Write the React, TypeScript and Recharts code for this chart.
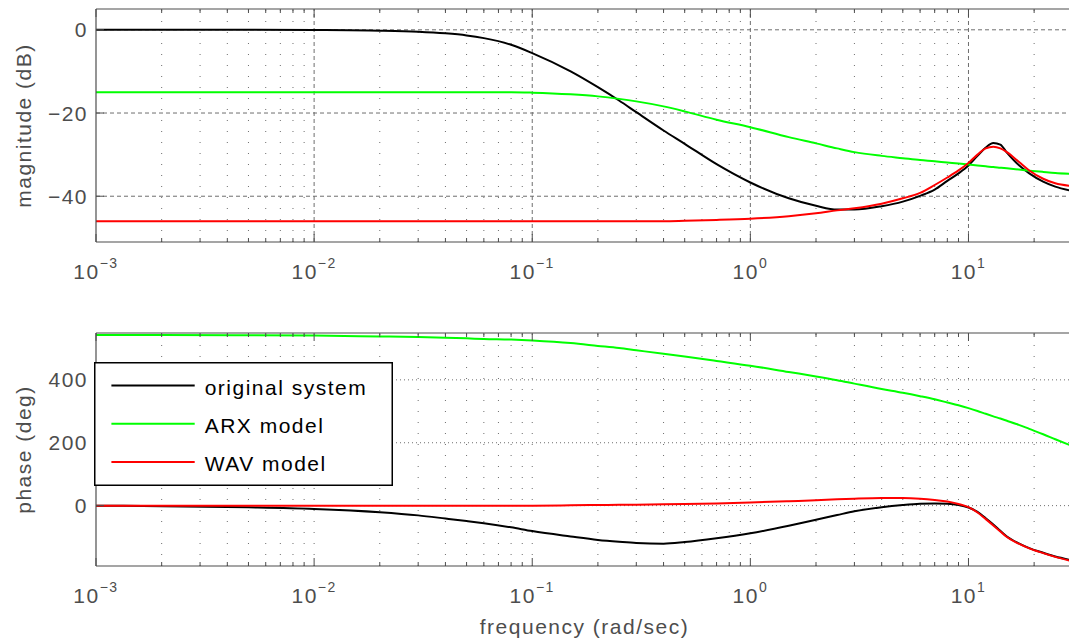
import React from 'react';
import { LineChart, Line, XAxis, YAxis, ReferenceLine, Legend } from 'recharts';

// frequency grid (rad/sec) shared by every curve
const freqs = [
  0.001, 0.002, 0.005, 0.01, 0.02, 0.03, 0.04, 0.05, 0.06, 0.08, 0.1, 0.15, 0.2, 0.25, 0.3, 0.4,
  0.5, 0.7, 1, 1.5, 2, 2.5, 3, 4, 5, 6, 7, 8, 9, 10, 11, 12, 13, 14, 15, 17, 19, 22, 25, 29,
];

// magnitude (dB)
const magOriginal = [
  0, 0, 0, -0.05, -0.2, -0.45, -0.85, -1.35, -2.0, -3.6, -5.6, -10.0, -13.8, -17.0, -19.8, -24.2,
  -27.4, -32.3, -36.7, -40.5, -42.3, -43.2, -43.2, -42.4, -41.3, -39.9, -38.4, -36.3, -34.5, -32.6,
  -30.3, -28.3, -27.2, -27.6, -29.5, -32.5, -34.5, -36.5, -37.7, -38.6,
];
const magArx = [
  -15, -15, -15, -15, -15, -15, -15, -15, -15, -15, -15.1, -15.5, -16.0, -16.6, -17.2, -18.4,
  -19.6, -21.6, -23.4, -25.8, -27.3, -28.5, -29.4, -30.3, -30.85, -31.3, -31.6, -31.9, -32.15, -32.4,
  -32.6, -32.8, -33.0, -33.15, -33.3, -33.6, -33.85, -34.15, -34.4, -34.6,
];
const magWav = [
  -46, -46, -46, -46, -46, -46, -46, -46, -46, -46, -46, -46, -46, -46, -46, -46,
  -45.9, -45.7, -45.4, -44.8, -44.1, -43.4, -42.9, -41.8, -40.5, -39.2, -37.3, -35.5, -33.8, -32.0,
  -30.0, -28.5, -28.1, -28.5, -29.4, -31.7, -33.8, -35.8, -36.9, -37.5,
];

// phase (deg)
const phaseOriginal = [
  0, -2, -5.5, -10.5, -21, -31, -41, -49, -56, -69, -81, -98, -109, -115, -119, -121,
  -116, -104, -88, -64, -45, -30, -18, -5, 2, 6, 7, 6, 2, -6,
  -20, -40, -60, -80, -98, -120, -135, -150, -162, -172,
];
const phaseArx = [
  543, 543, 542, 541, 538, 536, 534, 532, 530, 528, 525, 517, 508, 501, 494, 483,
  474, 460, 445, 425, 411, 399, 388, 371, 359, 348, 338, 328, 319, 310,
  301, 292, 284, 277, 270, 257, 244, 227, 211, 193,
];
const phaseWav = [
  0, 0, 0, 0, 0, 0, 0, 0, 0, 0, 0, 1, 2, 2.5, 3, 4,
  5, 7, 10, 14, 17, 20, 22, 24, 24, 22, 18, 13, 5, -5,
  -22, -43, -63, -82, -100, -121, -136, -151, -163, -175,
];

const seriesNames = ['original system', 'ARX model', 'WAV model'];
const seriesKeys = ['original', 'arx', 'wav'];
const seriesColors = ['#000000', '#00ff00', '#ff0000'];

const decadeTicks = [0.001, 0.01, 0.1, 1, 10];
const minorMultipliers = [2, 3, 4, 5, 6, 7, 8, 9];
const magTicks = [-40, -20, 0];
const phaseTicks = [0, 200, 400];

const X_MAX = 28.9;
const minorTicks = decadeTicks
  .flatMap((d) => minorMultipliers.map((m) => +(m * d).toPrecision(6)))
  .filter((v) => v <= X_MAX);
const allXTicks = [...decadeTicks, ...minorTicks].sort((a, b) => a - b);

const magData = freqs.map((f, i) => ({ f, original: magOriginal[i], arx: magArx[i], wav: magWav[i] }));
const phaseData = freqs.map((f, i) => ({ f, original: phaseOriginal[i], arx: phaseArx[i], wav: phaseWav[i] }));

const FONT = '"Liberation Sans", Arial, Helvetica, sans-serif';
const AXIS = '#4d4d4d';
const GRID = '#6e6e6e';

const isDecade = (v: number) => decadeTicks.some((d) => Math.abs(d - v) < d * 1e-6);
const fmtNum = (v: number) => (v < 0 ? '\u2212' + Math.abs(v) : String(v));

const BottomTick = (props: any) => {
  const { x, y, payload } = props;
  const v = payload.value;
  const major = isDecade(v);
  const exp = Math.round(Math.log10(v));
  return (
    <g>
      <line x1={x} y1={y} x2={x} y2={y - (major ? 8 : 4)} stroke={AXIS} strokeWidth={1} />
      {major && (
        <text x={x} y={y + 37} textAnchor="middle" fill={AXIS} fontFamily={FONT} fontSize={21} letterSpacing={1.5}>
          <tspan>10</tspan>
          <tspan dy={-11} fontSize={14}>{fmtNum(exp)}</tspan>
        </text>
      )}
    </g>
  );
};

const TopTick = (props: any) => {
  const { x, y, payload } = props;
  const major = isDecade(payload.value);
  return <line x1={x} y1={y} x2={x} y2={y + (major ? 8 : 4)} stroke={AXIS} strokeWidth={1} />;
};

const LeftTick = (props: any) => {
  const { x, y, payload } = props;
  return (
    <g>
      <line x1={x} y1={y} x2={x + 8} y2={y} stroke={AXIS} strokeWidth={1} />
      <text x={x - 8} y={y} dy="0.36em" textAnchor="end" fill={AXIS} fontFamily={FONT} fontSize={21} letterSpacing={1.5}>
        {fmtNum(payload.value)}
      </text>
    </g>
  );
};

const YTitle = (props: any) => {
  const vb = props.viewBox ?? { x: 0, y: 0, width: 96, height: 233 };
  const cx = 30.5;
  const cy = vb.y + vb.height / 2;
  return (
    <text x={cx} y={cy} transform={`rotate(-90 ${cx} ${cy})`} textAnchor="middle" fill={AXIS} fontFamily={FONT} fontSize={21} letterSpacing={1.5}>
      {props.text}
    </text>
  );
};

const XTitle = (props: any) => {
  const vb = props.viewBox ?? { x: 96, y: 246, width: 973, height: 1 };
  return (
    <text x={vb.x + vb.width / 2 + 2} y={vb.y + 68} textAnchor="middle" fill={AXIS} fontFamily={FONT} fontSize={21} letterSpacing={1.5}>
      frequency (rad/sec)
    </text>
  );
};

const LegendBox = () => (
  <svg width={299} height={124} style={{ display: 'block' }}>
    <rect x={0.75} y={0.75} width={297.5} height={122.5} fill="#fff" stroke="#000" strokeWidth={1.5} />
    {seriesNames.map((name, i) => {
      const y = 23.4 + i * 38.3;
      return (
        <g key={name}>
          <line x1={17.4} x2={100.7} y1={y} y2={y} stroke={seriesColors[i]} strokeWidth={2} />
          <text x={110.7} y={y + 9.3} fill="#000" fontFamily={FONT} fontSize={21} letterSpacing={1.5}>
            {name}
          </text>
        </g>
      );
    })}
  </svg>
);

// MATLAB style grid lines
const gridLines = (hTicks: number[], hDash: string, decadeDash: string, minorDash: string) => [
  ...hTicks.map((v) => (
    <ReferenceLine key={'h' + v} y={v} stroke={GRID} strokeWidth={1} strokeDasharray={hDash} />
  )),
  ...decadeTicks.slice(1).map((v) => (
    <ReferenceLine key={'d' + v} x={v} stroke={GRID} strokeWidth={1} strokeDasharray={decadeDash} />
  )),
  ...minorTicks.map((v) => (
    <ReferenceLine key={'m' + v} x={v} stroke={GRID} strokeWidth={1} strokeDasharray={minorDash} />
  )),
];

const xAxes = (withTitle: boolean) => [
  <XAxis
    key="xb"
    dataKey="f"
    type="number"
    scale="log"
    domain={[0.001, X_MAX]}
    ticks={allXTicks}
    interval={0}
    allowDataOverflow
    height={1}
    tickSize={0}
    tickMargin={0}
    tickLine={false}
    axisLine={{ stroke: AXIS, strokeWidth: 1.2 }}
    tick={<BottomTick />}
    label={withTitle ? <XTitle /> : undefined}
  />,
  <XAxis
    key="xt"
    xAxisId="top"
    orientation="top"
    dataKey="f"
    type="number"
    scale="log"
    domain={[0.001, X_MAX]}
    ticks={allXTicks}
    interval={0}
    allowDataOverflow
    height={1}
    tickSize={0}
    tickMargin={0}
    tickLine={false}
    axisLine={{ stroke: AXIS, strokeWidth: 1.2 }}
    tick={<TopTick />}
  />,
];

const series = () =>
  seriesKeys.map((k, i) => (
    <Line
      key={k}
      type="monotone"
      dataKey={k}
      name={seriesNames[i]}
      stroke={seriesColors[i]}
      strokeWidth={2}
      dot={false}
      activeDot={false}
      isAnimationActive={false}
    />
  ));

export default function App() {
  return (
    <div style={{ position: 'absolute', left: 0, top: 0, width: 1069, height: 641, overflow: 'hidden', background: '#fff' }}>
      <div style={{ position: 'absolute', left: 0, top: 0 }}>
        <LineChart width={1069} height={300} data={magData} margin={{ top: 8, right: 0, left: 0, bottom: 57 }}>
          {xAxes(false)}
          <YAxis
            type="number"
            domain={[-51, 5]}
            ticks={magTicks}
            interval={0}
            allowDataOverflow
            width={96}
            tickSize={0}
            tickMargin={0}
            tickLine={false}
            axisLine={{ stroke: AXIS, strokeWidth: 1.2 }}
            tick={<LeftTick />}
            label={<YTitle text="magnitude (dB)" />}
          />
          {gridLines(magTicks, '4 3', '4 3', '1 10')}
          {series()}
        </LineChart>
      </div>
      <div style={{ position: 'absolute', left: 0, top: 320 }}>
        <LineChart width={1069} height={321} data={phaseData} margin={{ top: 12, right: 0, left: 0, bottom: 74 }}>
          {xAxes(true)}
          <YAxis
            type="number"
            domain={[-192, 549]}
            ticks={phaseTicks}
            interval={0}
            allowDataOverflow
            width={96}
            tickSize={0}
            tickMargin={0}
            tickLine={false}
            axisLine={{ stroke: AXIS, strokeWidth: 1.2 }}
            tick={<LeftTick />}
            label={<YTitle text="phase (deg)" />}
          />
          {gridLines(phaseTicks, '1 3', '1 10', '1 10')}
          {series()}
          <Legend
            content={<LegendBox />}
            layout="horizontal"
            verticalAlign="middle"
            align="center"
            wrapperStyle={{ position: 'absolute', left: 94, top: 42, width: 299, height: 124 }}
          />
        </LineChart>
      </div>
    </div>
  );
}
